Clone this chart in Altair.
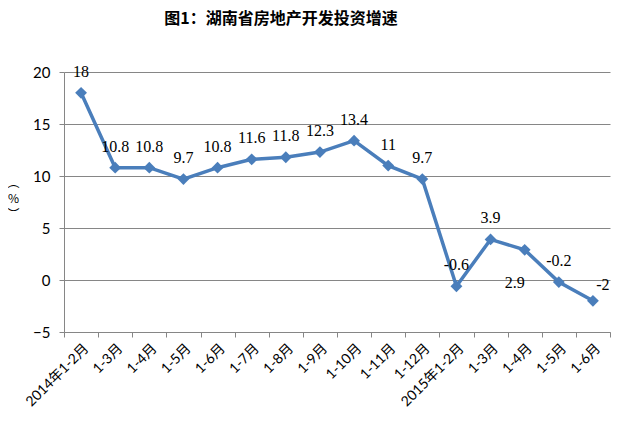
import altair as alt
import pandas as pd

categories = ["2014年1-2月", "1-3月", "1-4月", "1-5月", "1-6月", "1-7月", "1-8月", "1-9月",
              "1-10月", "1-11月", "1-12月", "2015年1-2月", "1-3月", "1-4月", "1-5月", "1-6月"]
values = [18, 10.8, 10.8, 9.7, 10.8, 11.6, 11.8, 12.3, 13.4, 11, 9.7, -0.6, 3.9, 2.9, -0.2, -2]
y_ticks = [-5, 0, 5, 10, 15, 20]

df = pd.DataFrame({"idx": list(range(len(categories))), "cat": categories, "value": values})
df["label"] = [str(v) for v in values]

label_arr = "[" + ",".join("'" + c + "'" for c in categories) + "]"

BLUE = "#4A7EBB"
GRAY = "#868686"

x = alt.X("idx:O", sort=None, title=None,
          scale=alt.Scale(paddingInner=0, paddingOuter=0),
          axis=alt.Axis(labelExpr=label_arr + "[datum.value]", labelAngle=-45,
                        labelFont="Lato, Noto Sans CJK SC", labelFontSize=14, labelColor="#000000",
                        labelPadding=4, tickBand="extent", tickSize=5, tickColor=GRAY,
                        domainColor=GRAY, grid=False))
y = alt.Y("value:Q", title=["︵", "%", "︶"],
          scale=alt.Scale(domain=[-5, 20], nice=False, zero=False),
          axis=alt.Axis(values=y_ticks, grid=True, gridColor=GRAY, domainColor=GRAY,
                        tickColor=GRAY, tickSize=5, labelFont="Lato", labelFontSize=15,
                        labelColor="#000000", labelPadding=9,
                        titleAngle=0, titleX=-51, titleY=105, titleBaseline="top",
                        titleFont="Noto Sans CJK SC", titleFontSize=12, titleFontWeight="normal",
                        titleLineHeight=16, titleAlign="center"))

base = alt.Chart(df)
line = base.mark_line(color=BLUE, strokeWidth=3.5).encode(x=x, y=y)
pts = base.mark_point(shape="diamond", filled=True, opacity=1, color=BLUE, size=140).encode(x=x, y=y)

normal = base.transform_filter("datum.idx != 13 && datum.idx != 15").mark_text(
    font="Liberation Serif", fontSize=16, color="#000000", dy=-21).encode(x=x, y=y, text="label:N")
lbl_29 = base.transform_filter("datum.idx == 13").mark_text(
    font="Liberation Serif", fontSize=16, color="#000000", dx=-10, dy=33).encode(x=x, y=y, text="label:N")
lbl_m2 = base.transform_filter("datum.idx == 15").mark_text(
    font="Liberation Serif", fontSize=16, color="#000000", dx=10, dy=-16).encode(x=x, y=y, text="label:N")

chart = alt.layer(line, pts, normal, lbl_29, lbl_m2).properties(
    width=546, height=260,
    title=alt.Title("图1：湖南省房地产开发投资增速", font="Noto Sans CJK SC", fontSize=16,
                    fontWeight="bold", anchor="middle", dx=-56, offset=37, color="#000000"),
    autosize=alt.AutoSizeParams(type="none"),
    padding={"left": 56, "top": 64, "right": 4, "bottom": 90},
).configure_view(stroke=None)

chart.save("out.html", embed_options={"renderer": "svg", "actions": False})
